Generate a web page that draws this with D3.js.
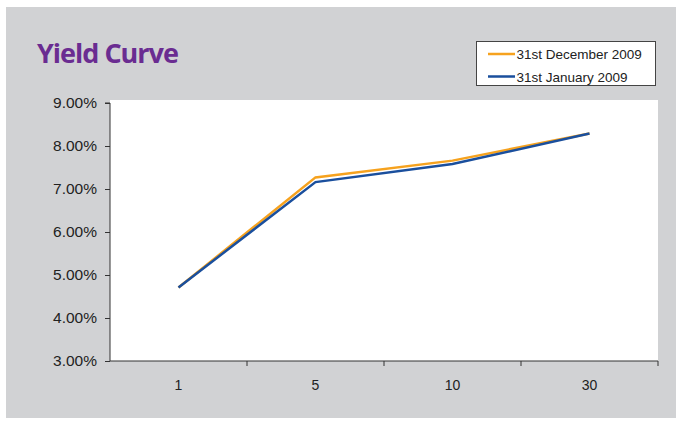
<!DOCTYPE html>
<html>
<head>
<meta charset="utf-8">
<script src="https://cdn.jsdelivr.net/npm/d3@7"></script>
<style>
  body { margin: 0; background: #fff; }
  svg { display: block; }
</style>
</head>
<body>
<svg width="681" height="425"></svg>
<script>
// maturities (years) and yields in percent
const maturities = ['1', '5', '10', '30'];
const dec2009 = [4.71, 7.27, 7.66, 8.29];
const jan2009 = [4.71, 7.16, 7.58, 8.29];
const yTicks = [3, 4, 5, 6, 7, 8, 9];
const seriesNames = ['31st December 2009', '31st January 2009'];
const seriesColors = ['#f6a21e', '#1a4f9d'];

const svg = d3.select('svg');

// grey panel
svg.append('rect')
    .attr('x', 6).attr('y', 7)
    .attr('width', 670).attr('height', 411)
    .attr('fill', '#d1d2d4');

svg.append('text')
    .attr('x', 37).attr('y', 63)
    .attr('font-family', 'Open Sans, sans-serif')
    .attr('font-weight', 'bold')
    .attr('font-size', 27)
    .attr('letter-spacing', -1)
    .attr('fill', '#6a2c91')
    .text('Yield Curve');

const plot = { left: 110, right: 658, top: 103, bottom: 361 };

svg.append('rect')
    .attr('x', plot.left).attr('y', plot.top - 3)
    .attr('width', plot.right - plot.left)
    .attr('height', plot.bottom - plot.top + 3)
    .attr('fill', '#fff');

const x = d3.scaleBand()
    .domain(maturities)
    .range([plot.left, plot.right]);

const y = d3.scaleLinear()
    .domain([3, 9])
    .range([plot.bottom, plot.top]);

// y axis
const yAxis = svg.append('g')
    .attr('transform', `translate(${plot.left},0)`)
    .call(d3.axisLeft(y).tickValues(yTicks).tickSize(5).tickPadding(8)
        .tickFormat(d => d.toFixed(2) + '%'));
yAxis.select('.domain').attr('d', `M-5,${plot.top}H0V${plot.bottom}`);
yAxis.selectAll('.tick text').attr('font-size', 15.5);

// x axis: ticks at band boundaries
const xAxis = svg.append('g')
    .attr('transform', `translate(0,${plot.bottom})`)
    .call(d3.axisBottom(x).tickSize(0).tickPadding(19));
xAxis.select('.domain').attr('d', `M${plot.left},0H${plot.right}`);
xAxis.selectAll('.tick text').attr('font-size', 14);
xAxis.selectAll('.bound')
    .data(maturities.slice(1).concat(['end']))
    .enter().append('line')
    .attr('x1', (d, i) => i < maturities.length - 1 ? x(d) : x.range()[1])
    .attr('x2', (d, i) => i < maturities.length - 1 ? x(d) : x.range()[1])
    .attr('y1', 0).attr('y2', 5)
    .attr('stroke', '#333');

svg.selectAll('.domain, .tick line').attr('stroke', '#333');
svg.selectAll('.tick text')
    .attr('font-family', 'Liberation Sans, Arial, sans-serif')
    .attr('fill', '#222');

// lines
const line = d3.line()
    .x((d, i) => x(maturities[i]) + x.bandwidth() / 2)
    .y(d => y(d));

[dec2009, jan2009].forEach((vals, k) => {
    svg.append('path')
        .datum(vals)
        .attr('d', line)
        .attr('fill', 'none')
        .attr('stroke', seriesColors[k])
        .attr('stroke-width', 2.5);
});

// legend
const legend = svg.append('g');
legend.append('rect')
    .attr('x', 476.5).attr('y', 41.5)
    .attr('width', 179).attr('height', 44)
    .attr('fill', '#fff').attr('stroke', '#444');
seriesNames.forEach((name, i) => {
    const ly = 54 + i * 22.5;
    legend.append('line')
        .attr('x1', 488).attr('x2', 515)
        .attr('y1', ly).attr('y2', ly)
        .attr('stroke', seriesColors[i]).attr('stroke-width', 2.5);
    legend.append('text')
        .attr('x', 516.5).attr('y', ly + 5)
        .attr('font-family', 'Liberation Sans, Arial, sans-serif')
        .attr('font-size', 13.5)
        .attr('fill', '#222')
        .text(name);
});
</script>
</body>
</html>
